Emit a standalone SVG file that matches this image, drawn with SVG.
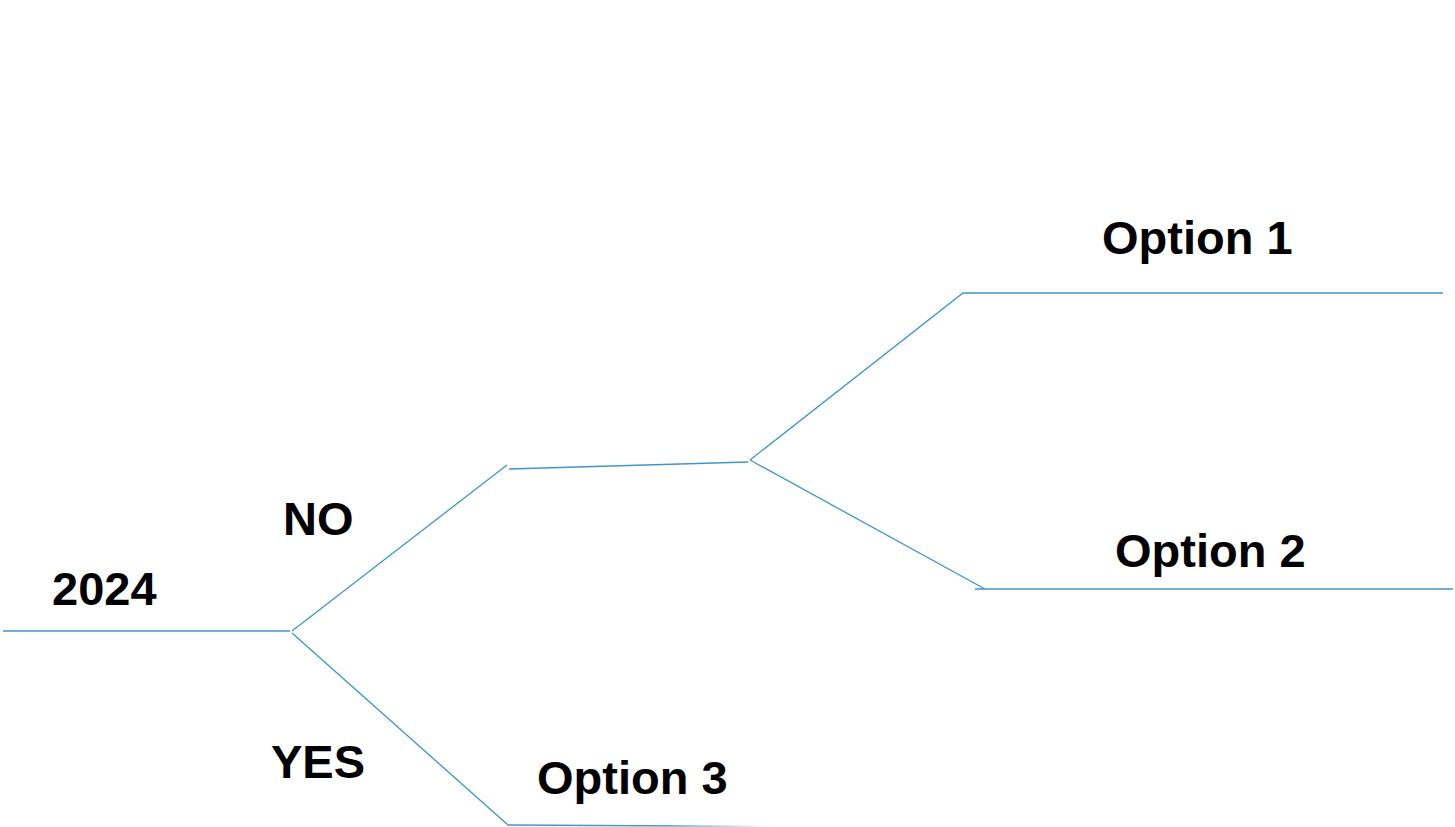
<svg xmlns="http://www.w3.org/2000/svg" width="1455" height="827" viewBox="0 0 1455 827">
<style>
.c{fill:none;stroke:#3b97c4;stroke-width:1.3;stroke-linejoin:miter}
.t{font-family:"Liberation Sans",Arial,sans-serif;font-weight:bold;font-size:47px;fill:#000}
</style>
<defs>
<linearGradient id="fade" x1="0" y1="0" x2="1" y2="0">
<stop offset="0" stop-color="#3b97c4"/>
<stop offset="0.6" stop-color="#3b97c4"/>
<stop offset="1" stop-color="#3b97c4" stop-opacity="0"/>
</linearGradient>
</defs>
<rect width="1455" height="827" fill="#fff"/>
<g id="connectors">
<path class="c" d="M3,631 H290"/>
<path class="c" d="M292,631 L507,465"/>
<path class="c" d="M509,469 L748,462"/>
<path class="c" d="M750,460 L963,293 H1443"/>
<path class="c" d="M750,460 L985,589"/>
<path class="c" d="M975,589 H1453"/>
<path class="c" d="M292,633 L508,825"/>
<path d="M508,825 L770,826.5" fill="none" stroke="url(#fade)" stroke-width="1.3"/>
</g>
<g id="n2024"><text class="t" x="52" y="605">2024</text></g>
<g id="nNO"><text class="t" x="283" y="535">NO</text></g>
<g id="nYES"><text class="t" x="271" y="778">YES</text></g>
<g id="nOpt1"><text class="t" x="1102" y="254">Option 1</text></g>
<g id="nOpt2"><text class="t" x="1115" y="567">Option 2</text></g>
<g id="nOpt3"><text class="t" x="537" y="794">Option 3</text></g>
</svg>
